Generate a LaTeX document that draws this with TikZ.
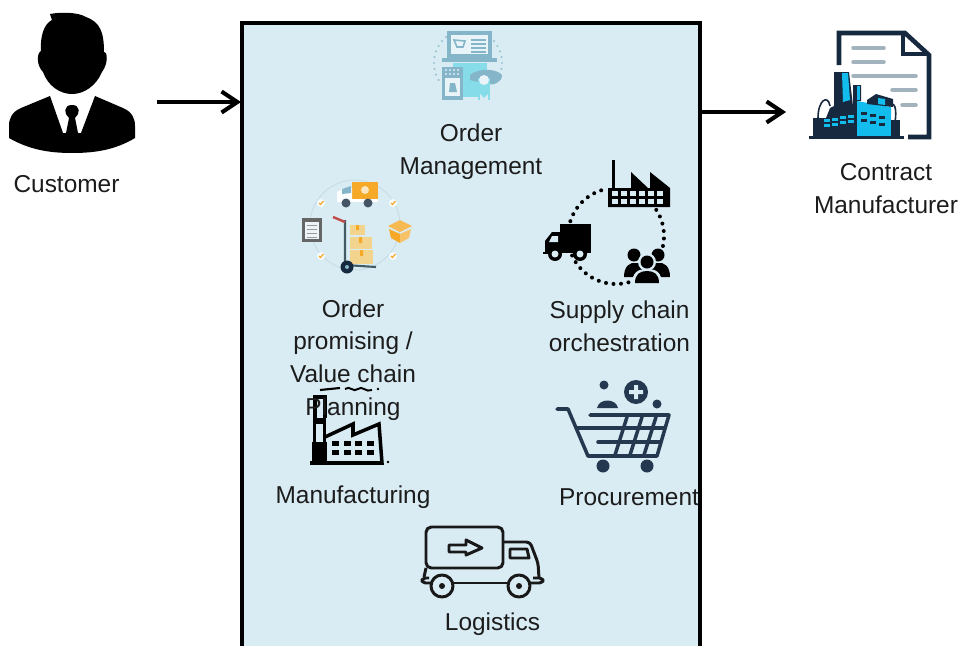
\documentclass[tikz,border=0pt]{standalone}
\usepackage{fontspec}
\setmainfont{Liberation Sans}
\usetikzlibrary{arrows.meta,calc}
\definecolor{panelblue}{HTML}{D9ECF3}
\definecolor{labelink}{HTML}{1C1C1C}
\definecolor{navy}{HTML}{17293F}
\definecolor{cartnavy}{HTML}{24394F}
\definecolor{skycyan}{HTML}{12BDEE}
\definecolor{docgrey}{HTML}{A3B3BD}
\definecolor{mutedblue}{HTML}{85B5C9}
\definecolor{mutedcyan}{HTML}{86DCE8}
\definecolor{boxtan}{HTML}{F2D48F}
\definecolor{boxorange}{HTML}{F5A927}
\tikzset{
  caption/.style={text=labelink,align=center,inner sep=0pt,font=\fontsize{13.9}{18.7}\selectfont},
  flowarrow/.style={line width=2.3pt,draw=black,-{Straight Barb[length=9pt,width=12pt]}},
  panelline/.style={line width=2pt,draw=black},
  cartline/.style={line width=2pt,draw=cartnavy,line cap=round,line join=round},
  truckline/.style={line width=1.7pt,draw=black!90,line join=round},
  millline/.style={line width=2pt,draw=black,line join=miter},
  docline/.style={line width=2.6pt,draw=navy},
  docrule/.style={line width=2pt,draw=docgrey,line cap=round}
}
\begin{document}
\begin{tikzpicture}[x=0.02cm,y=-0.02cm]
\useasboundingbox (0,0) rectangle (961,646);
\coordinate (panelnw) at (242,23);
\coordinate (panelne) at (700,23);
\coordinate (panelsw) at (242,646);
\coordinate (panelse) at (700,646);
\coordinate (custout) at (157,102);
\coordinate (custin) at (241,102);
\coordinate (panelout) at (700,112);
\coordinate (contractin) at (786,112);
\fill[panelblue] (panelnw) rectangle (panelse);
\draw[panelline] (panelsw) -- (panelnw) -- (panelne) -- (panelse);
\draw[flowarrow] (custout) -- (custin);
\draw[flowarrow] (panelout) -- (contractin);

\fill[black] (50,14) .. controls (60,12) and (78,12) .. (86,17) .. controls (100,22) and (104,32) .. (104,52)
  .. controls (108,52) and (108,64) .. (102,72) .. controls (96,86) and (84,94) .. (72,94)
  .. controls (60,94) and (48,86) .. (43,72) .. controls (37,66) and (36,54) .. (41,51)
  .. controls (40,36) and (44,24) .. (52,20) -- cycle;
\fill[black] (50,96) -- (21,108) .. controls (12,112) and (9,118) .. (9,126) -- (9,138)
  .. controls (30,150) and (50,153) .. (72,153) .. controls (95,153) and (115,150) .. (135,138)
  -- (135,126) .. controls (135,118) and (132,112) .. (123,108) -- (95,96) -- (81,133) -- (78,133)
  -- (75,118) .. controls (80,114) and (81,105) .. (72,105) .. controls (63,105) and (64,114) .. (69,118)
  -- (66,133) -- (63,133) -- cycle;

\foreach \a in {150,160,...,240,300,310,...,390}
  \fill[mutedblue!80] ({468+34*cos(\a)},{63+34*sin(\a)}) circle (1.2);
\fill[mutedcyan] (453,63) rectangle (487,97);
\fill[mutedblue] (447,31) rectangle (492,58);
\fill[panelblue!60] (451,35) rectangle (488,54);
\draw[mutedblue,line width=0.9pt] (454,40) -- (457,47) -- (463,47) -- (465,41) -- cycle;
\foreach \y in {40,44,48,52}
  \draw[mutedblue,line width=0.7pt] (471,\y) -- (486,\y);
\fill[mutedblue] (442,58) rectangle (497,62);
\fill[mutedblue] (442,67) rectangle (463,100);
\fill[panelblue!60] (445,78) rectangle (460,96);
\foreach \x in {446,450,454,458}
  \foreach \y in {70,74}
    \fill[panelblue] (\x,\y) circle (1.1);
\fill[mutedblue] (450,83) -- (455,83) -- (457,92) -- (449,92) -- cycle;
\fill[mutedblue] (470,75) .. controls (478,68) and (496,68) .. (502,75) .. controls (502,82) and (494,86) .. (486,84) -- (470,80) -- cycle;
\fill[mutedcyan] (478,78) rectangle (490,100);
\fill[panelblue] (480,94) -- (484,98) -- (488,94) -- (488,100) -- (480,100) -- cycle;
\fill[panelblue!60] (484,80) circle (5);

\draw[mutedblue!45,line width=0.6pt] (355,225) circle (45);
\fill[boxorange] (352,182) rectangle (378,199);
\fill[white!70!boxorange] (365,190) circle (4);
\fill[white!90!panelblue] (337,192) -- (344,188) -- (352,188) -- (352,201) -- (337,201) -- cycle;
\fill[mutedblue] (342,189) -- (351,186) -- (351,193) -- (342,194) -- cycle;
\fill[white] (337,199) rectangle (378,202);
\fill[navy!80] (346,203) circle (4.5) (368,203) circle (4.5);
\fill[black!60] (302,218) rectangle (322,242);
\fill[white!85!mutedblue] (305,222) rectangle (319,239);
\foreach \y in {225,229,233,237}
  \draw[black!40,line width=0.5pt] (307,\y) -- (317,\y);
\fill[boxorange!80] (388,226) -- (400,232) -- (412,226) -- (400,220) -- cycle;
\fill[boxorange] (389,229) -- (400,234) -- (400,243) -- (391,238) -- cycle;
\fill[boxorange!70] (411,229) -- (400,234) -- (400,243) -- (409,238) -- cycle;
\fill[boxtan] (350,225) rectangle (365,235);
\fill[boxtan] (350,237) rectangle (372,249);
\fill[boxtan] (350,250) rectangle (373,264);
\fill[boxorange] (356,225) rectangle (359,230) (359,237) rectangle (362,243) (360,250) rectangle (363,256);
\draw[black!50!mutedblue,line width=1.2pt] (345,220) -- (345,265) -- (376,267);
\draw[red!65!black!70,line width=1.4pt] (333,217) -- (345,222);
\fill[navy] (347,267) circle (6.5);
\fill[mutedblue] (347,267) circle (2);
\foreach \x/\y in {321/203,393/203,321/256,393/256}{
  \fill[white!80!panelblue] (\x,\y) circle (4);
  \draw[boxorange,line width=0.7pt] (\x-2,\y) -- (\x-0.5,\y+1.5) -- (\x+2.5,\y-2);
}

\fill[black] (612,160) rectangle (615,188);
\fill[black] (608,188) -- (631,188) -- (631,172) -- (648,188) -- (650,188) -- (650,172) -- (670,188) -- (670,207) -- (608,207) -- cycle;
\foreach \x in {615,624,...,662}
  \foreach \y in {193,201}
    \fill[panelblue] (\x-3,\y-2.5) rectangle (\x+3,\y+2.5);
\foreach \a in {198,207,...,252,-33,-24,...,12,75,84,...,156}
  \fill[black] ({616+48*cos(\a)},{236+48*sin(\a)}) circle (2);
\fill[black] (560,224) rectangle (591,253);
\fill[black] (560,232) -- (552,232) -- (545,241) -- (545,252) -- (560,253) -- cycle;
\fill[panelblue] (552,236) -- (558,236) -- (558,242) -- (549,242) -- cycle;
\fill[black] (543,252) rectangle (552,254);
\foreach \x in {555,580}{
  \fill[black] (\x,254) circle (7);
  \fill[panelblue] (\x,254) circle (3.5);
}
\fill[black] (634,255) circle (6.5) (658,255) circle (6.5);
\fill[black] (624,277) .. controls (624,266) and (630,262) .. (636,263) -- (658,263) .. controls (664,262) and (670,266) .. (670,277) -- cycle;
\fill[panelblue] (647,262) circle (9);
\fill[black] (647,262) circle (6.5);
\fill[panelblue] (632,285) .. controls (632,272) and (638,269) .. (647,269) .. controls (656,269) and (662,272) .. (662,285) -- cycle;
\fill[black] (635,283) .. controls (635,274) and (640,271) .. (647,271) .. controls (654,271) and (659,274) .. (659,283) -- cycle;

\draw[line width=1.2pt] (320,390) -- (340,388);
\draw[line width=1.1pt] (345,389) .. controls (350,385) and (353,393) .. (358,389) .. controls (362,385) and (366,393) .. (372,390);
\fill[black] (378,389) circle (1.3);
\fill[black] (388,462) circle (1.3);
\draw[millline] (315,418) -- (315,397) -- (325,397) -- (325,418);
\fill[black] (313,418) rectangle (326,462);
\fill[panelblue] (316,424) rectangle (323,442);
\fill[black] (312,442) rectangle (327,463);
\draw[millline] (325,437) -- (353,424) -- (353,435) -- (379,424) -- (382,463) -- (310,463);
\foreach \x in {335,347,358,370}
  \foreach \y in {443,452}
    \fill[black] (\x-3.5,\y-2.5) rectangle (\x+3.5,\y+2.5);

\draw[cartline] (557,409) -- (568,409) -- (588,456) -- (657,456) -- (669,415) -- (590,415);
\draw[cartline] (577,428) -- (665,428);
\draw[cartline] (598,442) -- (661,442);
\draw[cartline] (627,417) -- (615,455);
\draw[cartline] (642,417) -- (630,455);
\draw[cartline] (656,417) -- (644,455);
\fill[cartnavy] (603,466) circle (6.5) (647,466) circle (6.5);
\fill[cartnavy] (604,385) circle (4.5) (657,404) circle (4.5);
\fill[cartnavy] (597,408) .. controls (599,398) and (616,398) .. (618,408) -- cycle;
\fill[cartnavy] (636,392) circle (12);
\fill[panelblue] (634,385) rectangle (638,399) (629,390) rectangle (643,394);

\draw[truckline,rounded corners=3pt] (426,568) -- (426,527) -- (503,527) -- (503,568) -- cycle;
\draw[truckline] (449,545) -- (466,545) -- (466,540) -- (482,548) -- (466,555) -- (466,552) -- (449,552) -- cycle;
\draw[truckline,rounded corners=2pt] (503,542) -- (530,542) -- (538,563) -- (539,578);
\draw[truckline] (510,549) -- (527,549) -- (529,558) -- (510,558) -- cycle;
\draw[truckline] (426,568) -- (424,577);
\draw[truckline,rounded corners=2pt] (431,583) -- (422,583) -- (422,578) -- (429,578);
\draw[truckline,rounded corners=2pt] (530,583) -- (543,583) -- (543,578) -- (533,578);
\draw[truckline] (453,583) -- (508,583);
\foreach \x in {442,519}{
  \draw[truckline] (\x,586) circle (11);
  \fill[black!90] (\x,586) circle (3);
}

\draw[docline] (839,65) -- (839,33) -- (905,33) -- (929,55) -- (929,137) -- (908,137);
\draw[docline] (903,33) -- (903,54) -- (929,54);
\draw[docrule] (853,48) -- (884,48);
\draw[docrule] (853,62) -- (884,62);
\draw[docrule] (853,76) -- (916,76);
\draw[docrule] (892,90) -- (916,90);
\draw[docrule] (902,105) -- (916,105);
\fill[navy] (834,72) -- (849,72) -- (853,106) -- (853,85) -- (861,85) -- (861,101) -- (857,101) -- (857,137) -- (813,137) -- (813,118) -- (826,118) -- (830,108) -- (834,106) -- cycle;
\fill[skycyan] (842,73) -- (848,73) -- (850,100) -- (843,102) -- cycle;
\fill[skycyan] (857,101) -- (891,107) -- (891,137) -- (857,137) -- cycle;
\fill[skycyan] (857,86) rectangle (860,100);
\fill[navy] (867,100) -- (876,94) -- (893,99) -- (893,107) -- (867,104) -- cycle;
\fill[skycyan] (878,98) -- (885,99) -- (885,105) -- (878,104) -- cycle;
\fill[navy] (891,120) rectangle (900,137);
\fill[navy] (809,135.5) rectangle (904,138.5);
\draw[navy,line width=0.9pt] (818,118) .. controls (818,100) and (828,94) .. (830,106);
\draw[navy,line width=0.9pt] (889,106) .. controls (895,100) and (897,110) .. (895,122);
\foreach \x/\y in {827/120,835/119,843/117,851/116,827/125,835/124,843/122,851/121}
  \fill[skycyan] (\x-3,\y-1.5) rectangle (\x+3,\y+1.5);
\foreach \x/\y in {864/113,873/115,882/117,864/120,873/122,882/124}
  \fill[navy] (\x-3,\y-1.5) rectangle (\x+3,\y+1.5);

\node[caption] (customer) at (66.5,184) {Customer};
\node[caption] (ordermgmt) at (471,152) {Order\\Management};
\node[caption] (orderpromise) at (353,360) {Order\\promising /\\Value chain\\Planning};
\node[caption] (supplychain) at (619.5,326) {Supply chain\\orchestration};
\node[caption] (manufacturing) at (353,497.5) {Manufacturing};
\node[caption] (procurement) at (629,497.5) {Procurement};
\node[caption] (logistics) at (492.5,624.5) {Logistics};
\node[caption] (contract) at (886,189) {Contract\\Manufacturer};
\end{tikzpicture}
\end{document}
